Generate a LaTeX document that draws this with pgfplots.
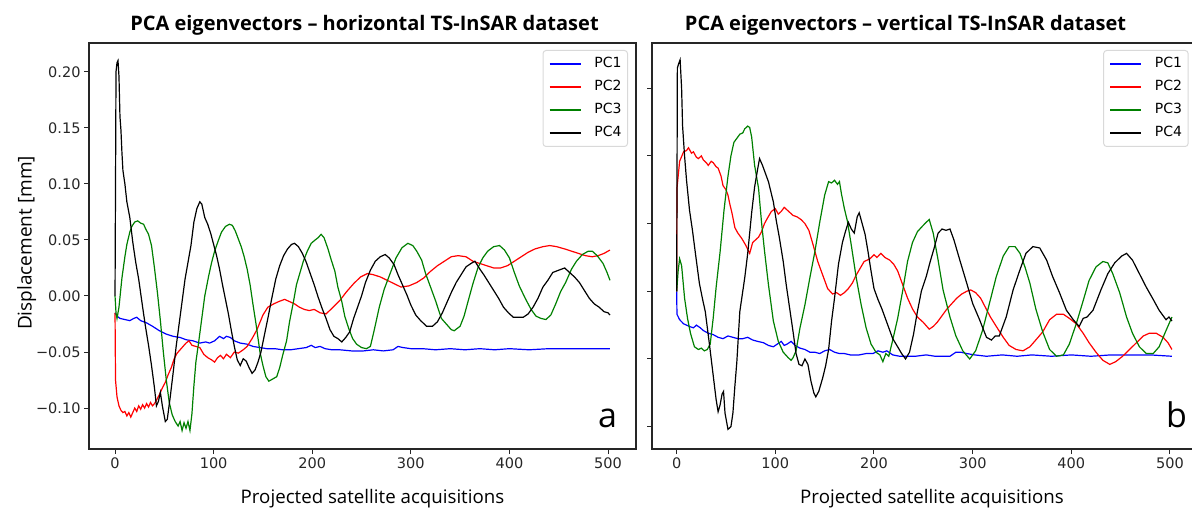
\documentclass[border=0pt]{standalone}
\usepackage{pgfplots}
\pgfplotsset{compat=1.18}
\usepackage{fontspec}
\setmainfont{Open Sans}
\newfontfamily\dejavu{DejaVu Sans}
\definecolor{pcblue}{RGB}{0,0,255}
\definecolor{pcred}{RGB}{255,0,0}
\definecolor{pcgreen}{RGB}{0,128,0}
\pgfplotsset{
  pcastyle/.style={
    scale only axis, height=406bp,
    axis line style={line width=1.1bp, black!85},
    tick style={line width=1bp, black!85},
    tick align=outside, major tick length=5bp,
    xtick pos=left, ytick pos=left,
    xtick={0,100,200,300,400,500}, xticklabels={0,100,200,300,400,500},
    ticklabel style={font=\dejavu\fontsize{14.5bp}{17bp}\selectfont, text=black!85},
    legend cell align=left,
    legend style={at={(1,1)}, xshift=-8bp, yshift=-7bp, anchor=north east,
      draw=black!15, line width=1bp, rounded corners=3bp, fill=white,
      font=\dejavu\fontsize{14bp}{16bp}\selectfont,
      inner xsep=6bp, inner ysep=6.5bp, row sep=9bp, column sep=0bp,
      nodes={inner sep=0bp, text height=11bp, text depth=3bp}},
    legend image code/.code={\draw[#1, line width=1.3bp] (0bp,0bp) -- (31bp,0bp) (44bp,0bp);},
    every axis plot/.append style={line width=1.2bp},
  }
}
\begin{document}
\begin{tikzpicture}
\begin{axis}[pcastyle, at={(89bp,60bp)}, anchor=south west, width=547bp,
  xmin=-26.4, xmax=528.4, ymin=-0.1365, ymax=0.2257,
  ytick={-0.10,-0.05,0,0.05,0.10,0.15,0.20},
  yticklabels={−0.10,−0.05,0.00,0.05,0.10,0.15,0.20}]
\addplot[pcblue] coordinates {(0,-0.015)(2,-0.018)(5,-0.020)(10,-0.021)(15,-0.022)(19,-0.020)(22,-0.019)(26,-0.022)(32,-0.024)(38,-0.027)(45,-0.031)(52,-0.034)(59,-0.036)(66,-0.037)(72,-0.039)(79,-0.040)(86,-0.042)(92,-0.041)(96,-0.042)(101,-0.040)(106,-0.036)(110,-0.038)(113,-0.036)(117,-0.037)(121,-0.040)(127,-0.042)(134,-0.043)(140,-0.045)(147,-0.046)(154,-0.047)(162,-0.047)(170,-0.048)(178,-0.048)(186,-0.047)(194,-0.046)(199,-0.044)(203,-0.046)(208,-0.045)(213,-0.047)(220,-0.048)(228,-0.048)(240,-0.049)(252,-0.049)(262,-0.048)(272,-0.049)(282,-0.048)(287,-0.045)(292,-0.046)(300,-0.047)(312,-0.047)(325,-0.048)(340,-0.047)(355,-0.048)(370,-0.047)(385,-0.048)(400,-0.047)(420,-0.048)(440,-0.047)(460,-0.047)(480,-0.047)(502,-0.047)};
\addlegendentry{PC1}
\addplot[pcred] coordinates {(0,-0.015)(0.5,-0.075)(2,-0.090)(4,-0.098)(6,-0.102)(8,-0.104)(10,-0.103)(12,-0.107)(14,-0.104)(16,-0.108)(18,-0.104)(20,-0.100)(22,-0.103)(24,-0.098)(26,-0.101)(28,-0.097)(30,-0.100)(32,-0.096)(34,-0.099)(36,-0.095)(38,-0.098)(40,-0.096)(42,-0.093)(45,-0.088)(48,-0.082)(51,-0.077)(54,-0.070)(57,-0.064)(60,-0.056)(63,-0.051)(66,-0.048)(69,-0.045)(72,-0.042)(75,-0.040)(78,-0.044)(82,-0.045)(86,-0.046)(90,-0.052)(94,-0.055)(98,-0.057)(101,-0.059)(104,-0.055)(107,-0.053)(110,-0.056)(113,-0.052)(117,-0.055)(121,-0.050)(125,-0.051)(130,-0.048)(134,-0.045)(139,-0.038)(144,-0.030)(150,-0.017)(155,-0.010)(161,-0.007)(166,-0.005)(172,-0.003)(177,-0.005)(182,-0.007)(187,-0.010)(192,-0.012)(197,-0.013)(202,-0.012)(208,-0.015)(214,-0.016)(220,-0.011)(228,-0.004)(235,0.004)(242,0.011)(249,0.017)(256,0.020)(262,0.019)(269,0.017)(276,0.014)(283,0.011)(290,0.008)(298,0.009)(306,0.012)(313,0.016)(320,0.022)(327,0.027)(334,0.031)(341,0.035)(348,0.036)(356,0.035)(363,0.031)(370,0.029)(377,0.027)(384,0.025)(391,0.025)(398,0.027)(405,0.031)(412,0.035)(419,0.039)(426,0.042)(434,0.044)(441,0.045)(448,0.044)(456,0.042)(463,0.040)(470,0.038)(477,0.036)(484,0.035)(490,0.036)(496,0.038)(502,0.041)};
\addlegendentry{PC2}
\addplot[pcgreen] coordinates {(0,0)(1,-0.015)(2,-0.020)(4,-0.010)(7,0.016)(10,0.035)(12,0.046)(15,0.057)(17,0.062)(20,0.066)(23,0.067)(26,0.065)(29,0.064)(31,0.060)(34,0.055)(37,0.045)(40,0.025)(43,0.003)(46,-0.022)(49,-0.050)(52,-0.075)(55,-0.095)(58,-0.106)(61,-0.112)(64,-0.116)(66,-0.112)(68,-0.120)(70,-0.113)(72,-0.118)(74,-0.112)(76,-0.120)(78,-0.105)(80,-0.080)(82,-0.059)(85,-0.040)(88,-0.020)(91,0.000)(95,0.018)(98,0.030)(101,0.040)(105,0.050)(108,0.057)(112,0.062)(116,0.064)(119,0.063)(122,0.058)(125,0.051)(128,0.044)(131,0.035)(134,0.024)(137,0.010)(140,-0.008)(143,-0.025)(147,-0.050)(150,-0.062)(153,-0.072)(156,-0.076)(160,-0.074)(164,-0.072)(167,-0.064)(170,-0.053)(174,-0.040)(177,-0.023)(181,-0.005)(184,0.010)(188,0.022)(191,0.031)(195,0.040)(199,0.047)(203,0.050)(206,0.052)(209,0.055)(212,0.052)(216,0.042)(219,0.033)(223,0.022)(226,0.008)(230,-0.005)(233,-0.018)(237,-0.029)(241,-0.038)(245,-0.043)(250,-0.046)(255,-0.047)(259,-0.045)(263,-0.030)(268,-0.010)(273,0.006)(279,0.020)(285,0.034)(291,0.043)(297,0.047)(302,0.045)(306,0.040)(311,0.032)(315,0.020)(320,0.008)(325,-0.004)(331,-0.020)(337,-0.026)(341,-0.030)(344,-0.031)(347,-0.029)(350,-0.027)(354,-0.018)(358,-0.005)(363,0.011)(368,0.025)(373,0.034)(378,0.040)(384,0.044)(390,0.045)(395,0.041)(400,0.034)(405,0.021)(410,0.009)(416,-0.002)(422,-0.012)(427,-0.018)(432,-0.020)(437,-0.021)(442,-0.017)(447,-0.007)(452,0.004)(457,0.012)(463,0.024)(468,0.031)(474,0.037)(480,0.040)(484,0.040)(489,0.036)(495,0.029)(499,0.021)(502,0.014)};
\addlegendentry{PC3}
\addplot[black] coordinates {(0,0)(1,0.200)(2,0.208)(3,0.210)(4,0.196)(5,0.160)(6,0.148)(7,0.128)(8,0.112)(10,0.100)(12,0.084)(15,0.070)(18,0.048)(21,0.030)(24,0.015)(28,-0.010)(31,-0.028)(34,-0.044)(37,-0.062)(40,-0.082)(42,-0.098)(44,-0.094)(46,-0.086)(48,-0.098)(51,-0.112)(53,-0.110)(56,-0.090)(59,-0.068)(62,-0.045)(65,-0.025)(68,-0.005)(71,0.015)(74,0.030)(77,0.045)(80,0.066)(83,0.078)(86,0.084)(88,0.082)(91,0.070)(94,0.064)(97,0.056)(100,0.046)(103,0.036)(106,0.024)(109,0.010)(112,-0.003)(115,-0.016)(118,-0.031)(121,-0.045)(124,-0.057)(127,-0.062)(130,-0.056)(133,-0.058)(136,-0.064)(139,-0.069)(142,-0.066)(145,-0.059)(148,-0.050)(151,-0.037)(155,-0.020)(159,-0.002)(163,0.015)(167,0.027)(171,0.036)(175,0.042)(179,0.046)(182,0.047)(186,0.044)(190,0.038)(194,0.030)(198,0.020)(202,0.010)(206,-0.001)(210,-0.011)(214,-0.020)(218,-0.030)(222,-0.036)(226,-0.038)(230,-0.041)(234,-0.037)(238,-0.032)(242,-0.020)(246,-0.010)(250,0.000)(254,0.012)(259,0.023)(264,0.031)(269,0.035)(274,0.037)(278,0.034)(283,0.028)(287,0.019)(291,0.011)(296,0.001)(300,-0.008)(305,-0.017)(310,-0.022)(316,-0.027)(322,-0.027)(327,-0.023)(332,-0.015)(337,-0.005)(341,0.003)(346,0.012)(351,0.019)(356,0.026)(361,0.029)(365,0.031)(370,0.024)(374,0.019)(379,0.012)(384,0.005)(389,-0.002)(394,-0.010)(399,-0.015)(404,-0.019)(409,-0.019)(414,-0.019)(419,-0.016)(424,-0.010)(429,-0.002)(434,0.008)(439,0.014)(444,0.021)(450,0.023)(456,0.025)(461,0.021)(466,0.017)(471,0.012)(476,0.005)(481,-0.002)(486,-0.007)(491,-0.010)(496,-0.014)(500,-0.015)(502,-0.017)};
\addlegendentry{PC4}
\end{axis}
\begin{axis}[pcastyle, at={(652bp,60bp)}, anchor=south west, width=544.6bp,
  xmin=-25, xmax=527, ymin=-0.1165, ymax=0.1834,
  ytick={-0.10,-0.05,0,0.05,0.10,0.15}, yticklabels={}]
\addplot[pcblue] coordinates {(0,0)(0.3,-0.017)(3,-0.021)(7,-0.024)(13,-0.026)(17,-0.027)(20,-0.025)(24,-0.027)(27,-0.029)(32,-0.031)(37,-0.032)(42,-0.034)(47,-0.035)(52,-0.033)(57,-0.034)(62,-0.035)(67,-0.035)(72,-0.034)(77,-0.036)(82,-0.037)(88,-0.038)(93,-0.040)(98,-0.041)(102,-0.039)(106,-0.037)(109,-0.040)(112,-0.039)(116,-0.037)(120,-0.040)(125,-0.042)(130,-0.043)(135,-0.045)(140,-0.045)(145,-0.046)(150,-0.044)(155,-0.043)(160,-0.045)(165,-0.046)(170,-0.046)(176,-0.047)(185,-0.047)(192,-0.046)(199,-0.046)(204,-0.044)(209,-0.045)(213,-0.044)(219,-0.047)(226,-0.048)(233,-0.048)(242,-0.048)(253,-0.047)(262,-0.048)(270,-0.048)(277,-0.048)(283,-0.045)(288,-0.045)(294,-0.046)(302,-0.047)(314,-0.048)(330,-0.047)(345,-0.048)(360,-0.047)(380,-0.048)(400,-0.047)(420,-0.048)(440,-0.047)(460,-0.047)(480,-0.047)(502,-0.048)};
\addlegendentry{PC1}
\addplot[pcred] coordinates {(0,0)(0.3,0.076)(3,0.096)(7,0.103)(10,0.104)(12,0.106)(15,0.102)(17,0.103)(20,0.099)(22,0.098)(25,0.100)(27,0.097)(30,0.095)(32,0.093)(35,0.096)(37,0.095)(40,0.092)(42,0.091)(45,0.085)(47,0.078)(50,0.075)(52,0.071)(54,0.064)(56,0.058)(59,0.047)(62,0.043)(66,0.039)(70,0.034)(74,0.028)(77,0.036)(80,0.038)(83,0.040)(86,0.044)(89,0.050)(92,0.054)(96,0.059)(100,0.061)(103,0.057)(106,0.059)(109,0.062)(112,0.060)(115,0.058)(118,0.056)(122,0.055)(126,0.053)(130,0.050)(134,0.045)(138,0.035)(143,0.022)(148,0.012)(153,0.002)(158,-0.002)(162,-0.001)(166,-0.003)(170,-0.001)(174,0.002)(178,0.006)(182,0.012)(186,0.017)(190,0.022)(196,0.024)(200,0.027)(203,0.025)(207,0.028)(211,0.025)(216,0.023)(220,0.020)(224,0.015)(229,0.005)(234,-0.005)(239,-0.013)(244,-0.019)(250,-0.023)(256,-0.028)(260,-0.026)(264,-0.023)(269,-0.018)(274,-0.013)(279,-0.009)(284,-0.005)(289,-0.002)(294,0.000)(298,0.001)(303,-0.001)(308,-0.005)(313,-0.012)(318,-0.019)(324,-0.026)(331,-0.034)(337,-0.040)(344,-0.043)(351,-0.044)(358,-0.041)(364,-0.036)(371,-0.030)(378,-0.021)(385,-0.017)(392,-0.017)(398,-0.020)(405,-0.024)(412,-0.031)(418,-0.038)(425,-0.045)(432,-0.051)(439,-0.054)(445,-0.052)(452,-0.048)(459,-0.043)(466,-0.038)(473,-0.033)(479,-0.031)(486,-0.031)(493,-0.034)(498,-0.038)(502,-0.043)};
\addlegendentry{PC2}
\addplot[pcgreen] coordinates {(0,0)(1.5,0.015)(3,0.024)(5,0.019)(8,-0.005)(11,-0.020)(14,-0.031)(18,-0.041)(22,-0.043)(25,-0.042)(28,-0.044)(31,-0.043)(34,-0.039)(37,-0.020)(40,0.003)(44,0.029)(48,0.060)(52,0.085)(55,0.100)(58,0.110)(61,0.113)(64,0.116)(67,0.117)(69,0.120)(72,0.122)(74,0.121)(76,0.114)(79,0.093)(83,0.076)(86,0.051)(89,0.030)(93,0.005)(98,-0.022)(103,-0.037)(108,-0.045)(113,-0.049)(116,-0.051)(118,-0.049)(121,-0.044)(125,-0.027)(130,-0.010)(135,0.010)(140,0.029)(145,0.051)(150,0.071)(154,0.081)(157,0.080)(160,0.082)(163,0.079)(165,0.081)(167,0.072)(170,0.061)(173,0.052)(177,0.034)(182,0.010)(187,-0.010)(192,-0.027)(197,-0.039)(202,-0.045)(206,-0.047)(209,-0.052)(212,-0.046)(215,-0.048)(219,-0.036)(224,-0.020)(229,0.000)(234,0.022)(239,0.036)(244,0.044)(249,0.048)(253,0.051)(256,0.053)(260,0.043)(265,0.023)(270,0.001)(277,-0.019)(283,-0.033)(290,-0.044)(297,-0.050)(303,-0.044)(310,-0.029)(317,-0.009)(324,0.011)(331,0.026)(337,0.033)(343,0.033)(348,0.028)(353,0.018)(358,0.006)(364,-0.013)(371,-0.030)(378,-0.043)(385,-0.048)(392,-0.047)(398,-0.039)(405,-0.024)(412,-0.007)(418,0.008)(425,0.018)(432,0.022)(437,0.021)(442,0.013)(449,-0.001)(456,-0.019)(462,-0.031)(469,-0.041)(476,-0.046)(483,-0.046)(489,-0.041)(496,-0.029)(502,-0.019)};
\addlegendentry{PC3}
\addplot[black] coordinates {(0,0)(0.7,0.165)(2,0.168)(3.5,0.171)(5,0.150)(6,0.122)(8,0.100)(10,0.082)(13,0.060)(16,0.045)(19,0.028)(23,0.006)(26,-0.005)(29,-0.015)(33,-0.038)(37,-0.062)(40,-0.080)(42,-0.089)(44,-0.084)(46,-0.076)(47.5,-0.074)(49,-0.090)(52,-0.102)(55,-0.100)(57,-0.090)(59,-0.070)(61,-0.052)(64,-0.015)(67,0.000)(69,0.010)(72,0.028)(76,0.058)(79,0.077)(82,0.090)(84,0.098)(87,0.093)(90,0.087)(93,0.081)(96,0.072)(98,0.066)(101,0.052)(104,0.040)(108,0.022)(111,0.005)(114,-0.010)(118,-0.030)(121,-0.046)(124,-0.054)(127,-0.055)(130,-0.050)(133,-0.054)(136,-0.066)(139,-0.075)(141,-0.078)(144,-0.074)(148,-0.064)(151,-0.055)(154,-0.043)(157,-0.022)(160,-0.005)(164,0.020)(168,0.036)(171,0.044)(174,0.051)(177,0.046)(180,0.043)(183,0.055)(185,0.058)(188,0.050)(191,0.042)(194,0.029)(197,0.015)(200,0.002)(204,-0.006)(208,-0.013)(213,-0.023)(219,-0.035)(224,-0.041)(228,-0.046)(232,-0.050)(236,-0.045)(240,-0.032)(244,-0.015)(248,0.000)(253,0.011)(257,0.022)(261,0.032)(265,0.043)(269,0.046)(273,0.045)(277,0.046)(281,0.038)(287,0.023)(294,0.006)(300,-0.009)(307,-0.021)(314,-0.034)(319,-0.036)(323,-0.033)(327,-0.033)(334,-0.019)(341,0.001)(348,0.016)(354,0.028)(361,0.033)(368,0.032)(375,0.023)(381,0.011)(388,-0.001)(395,-0.014)(402,-0.021)(408,-0.026)(412,-0.020)(416,-0.019)(422,-0.014)(430,0.001)(437,0.013)(444,0.021)(451,0.026)(456,0.028)(462,0.023)(469,0.013)(476,0.003)(483,-0.006)(489,-0.014)(496,-0.021)(499,-0.019)(502,-0.022)};
\addlegendentry{PC4}
\end{axis}
% titles and labels
\node[anchor=base, inner sep=0, font=\bfseries\fontsize{20bp}{24bp}\selectfont] at (364.5bp,478bp) {PCA eigenvectors – horizontal TS-InSAR dataset};
\node[anchor=base, inner sep=0, font=\bfseries\fontsize{20bp}{24bp}\selectfont] at (905.5bp,478bp) {PCA eigenvectors – vertical TS-InSAR dataset};
\node[anchor=base, inner sep=0, font=\fontsize{18.7bp}{22bp}\selectfont] at (372.5bp,6bp) {Projected satellite acquisitions};
\node[anchor=base, inner sep=0, font=\fontsize{18.7bp}{22bp}\selectfont] at (932bp,6bp) {Projected satellite acquisitions};
\node[anchor=base, rotate=90, inner sep=0, font=\fontsize{19bp}{22bp}\selectfont] at (31.5bp,266bp) {Displacement [mm]};
\node[anchor=base west, inner sep=0, font=\fontsize{34bp}{40bp}\selectfont] at (598bp,81bp) {a};
\node[anchor=base west, inner sep=0, font=\fontsize{34bp}{40bp}\selectfont] at (1166bp,81bp) {b};
\pgfresetboundingbox
\path[use as bounding box] (0bp,0bp) rectangle (1192bp,509bp);
\end{tikzpicture}
\end{document}
